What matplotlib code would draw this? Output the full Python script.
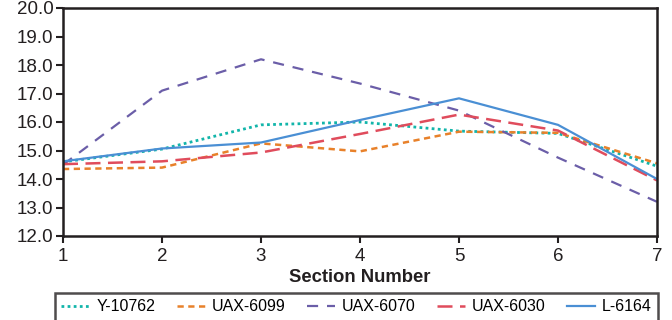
import matplotlib
matplotlib.use("Agg")
import matplotlib.pyplot as plt

sections = [1, 2, 3, 4, 5, 6, 7]
y_10762 = [14.6, 15.05, 15.9, 16.0, 15.68, 15.6, 14.45]
uax_6099 = [14.35, 14.4, 15.25, 14.97, 15.66, 15.62, 14.55]
uax_6070 = [14.5, 17.1, 18.2, 17.35, 16.4, 14.75, 13.2]
uax_6030 = [14.52, 14.62, 14.93, 15.58, 16.26, 15.7, 13.95]
l_6164 = [14.62, 15.07, 15.28, 16.07, 16.83, 15.9, 14.0]

series_names = ["Y-10762", "UAX-6099", "UAX-6070", "UAX-6030", "L-6164"]
yticks = [12, 13, 14, 15, 16, 17, 18, 19, 20]

plt.rcParams['font.family'] = ['Liberation Sans', 'DejaVu Sans']

fig = plt.figure(figsize=(6.72, 3.2), dpi=100)
ax = fig.add_axes([63/672, 1-236/320, (657-63)/672, (236-8)/320])

styles = [
    dict(color='#12b5aa', linestyle=(0, (1, 1.2)), linewidth=2.0),
    dict(color='#e8812a', linestyle=(0, (2.5, 1.8)), linewidth=1.8),
    dict(color='#6b5ea8', linestyle=(0, (5, 4)), linewidth=1.6),
    dict(color='#e04c5c', linestyle=(0, (6, 3)), linewidth=1.8),
    dict(color='#4a8fd4', linestyle='-', linewidth=1.6),
]
data = [y_10762, uax_6099, uax_6070, uax_6030, l_6164]
for name, vals, st in zip(series_names, data, styles):
    ax.plot(sections, vals, label=name, **st)

ax.set_xlim(1, 7)
ax.set_ylim(12, 20)
ax.set_xticks(sections)
ax.set_yticks(yticks)
ax.set_yticklabels([f"{v:.1f}" for v in yticks])
ax.tick_params(axis='both', direction='out', length=5, width=1.5, labelsize=13.5, colors='#231f20')
ax.tick_params(axis='x', pad=3.5)
ax.tick_params(axis='y', pad=2)
for s in ax.spines.values():
    s.set_linewidth(1.8)
    s.set_color('#231f20')
ax.set_xlabel("Section Number", fontsize=13.3, fontweight='bold', labelpad=3, color='#231f20')

leg = fig.legend(loc='upper left', bbox_to_anchor=(55/672, 1-293/320, (658-55)/672, 0.0),
                 mode='expand', ncol=5, fontsize=11.5, frameon=True, fancybox=False,
                 handlelength=1.8, handletextpad=0.4, borderaxespad=0, borderpad=0.4)
leg.get_frame().set_edgecolor('#231f20')
leg.get_frame().set_linewidth(1.8)

fig.savefig("out.png", dpi=100)
